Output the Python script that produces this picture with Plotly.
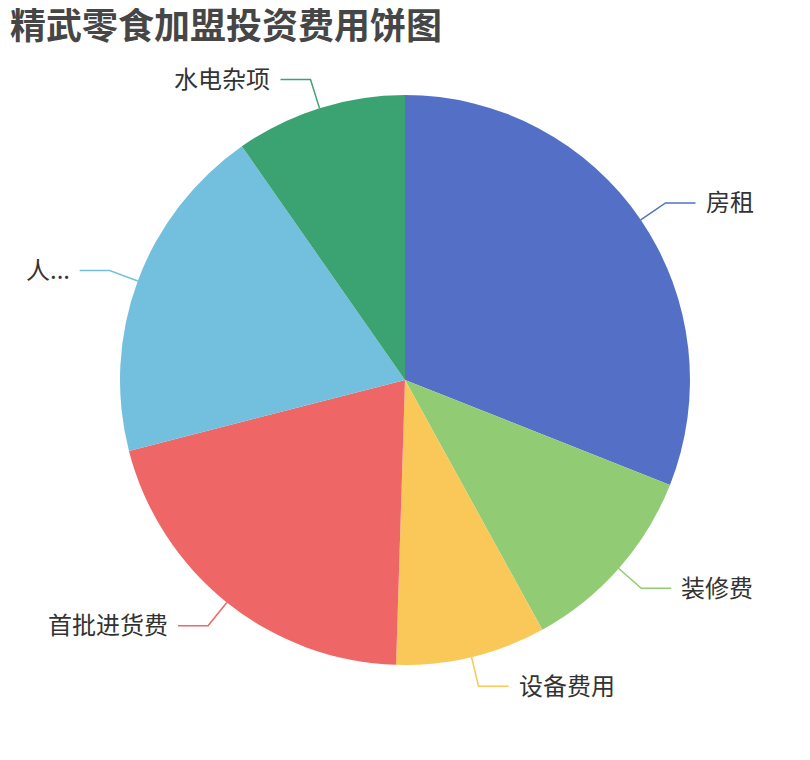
import math
import plotly.graph_objects as go

# 费用分类与占比
categories = ['房租', '装修费', '设备费用', '首批进货费', '人...', '水电杂项']
amounts = [31, 11, 8.5, 20.5, 19.3, 9.7]
colors = ['#5470c6', '#91cc75', '#fac858', '#ee6666', '#73c0de', '#3ba272']

W, H = 810, 760
off = 8                        # page body margin
cx, cy, R = 405 - off, 380 - off, 285   # pie centre and radius in pixels
seg1, seg2, gap = 30, 30, 8  # label line lengths


def px(x, y):
    # pixel -> paper coordinates
    return x / W, 1 - y / H


fig = go.Figure(
    go.Pie(
        labels=categories,
        values=amounts,
        sort=False,
        direction='clockwise',
        rotation=0,
        marker=dict(colors=colors, line=dict(width=0)),
        textinfo='none',
        hoverinfo='label+value+percent',
        showlegend=False,
        domain=dict(x=[(cx - R) / W, (cx + R) / W], y=[1 - (cy + R) / H, 1 - (cy - R) / H]),
    )
)

# leader lines + outside labels, computed from the slice angles
total = sum(amounts)
start = 0.0
shapes, annotations = [], []
for name, val, col in zip(categories, amounts, colors):
    sweep = val / total * 360
    mid = math.radians(start + sweep / 2)
    start += sweep
    sx, sy = math.sin(mid), -math.cos(mid)
    x0, y0 = cx + R * sx, cy + R * sy
    x1, y1 = cx + (R + seg1) * sx, cy + (R + seg1) * sy
    side = 1 if sx >= 0 else -1
    x2 = x1 + side * seg2
    p0, p1, p2 = px(x0, y0), px(x1, y1), px(x2, y1)
    shapes.append(dict(
        type='path', xref='paper', yref='paper',
        path=f'M {p0[0]} {p0[1]} L {p1[0]} {p1[1]} L {p2[0]} {p2[1]}',
        line=dict(color=col, width=1.5),
    ))
    lx, ly = px(x2 + side * gap, y1 - 2)
    annotations.append(dict(
        x=lx, y=ly, xref='paper', yref='paper', text=name, showarrow=False,
        xanchor='left' if side > 0 else 'right', yanchor='middle',
        font=dict(family='Noto Sans CJK SC', size=24, color='#333333'),
    ))

fig.update_layout(
    width=W, height=H,
    margin=dict(l=0, r=0, t=0, b=0),
    paper_bgcolor='white',
    title=dict(
        text='<b>精武零食加盟投资费用饼图</b>',
        x=2 / W, xanchor='left', xref='paper',
        y=1 - 6 / H, yanchor='top', yref='container',
        pad=dict(t=0, l=0),
        font=dict(family='Noto Sans CJK SC', size=36, color='#464646'),
    ),
    shapes=shapes,
    annotations=annotations,
)

fig.write_html('out.html')
